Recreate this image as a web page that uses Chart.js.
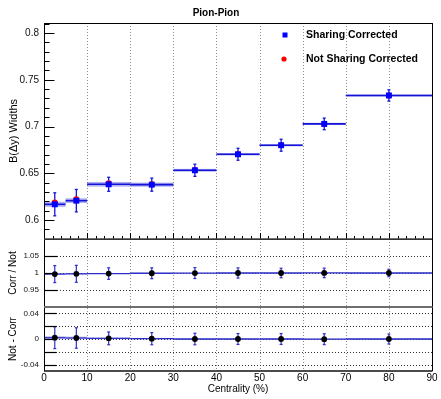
<!DOCTYPE html>
<html><head><meta charset="utf-8">
<script src="https://cdn.jsdelivr.net/npm/chart.js@4/dist/chart.umd.min.js"></script>
<style>html,body{margin:0;padding:0;background:#fff}canvas{display:block}</style>
</head><body>
<canvas id="c" width="441" height="399"></canvas>
<script>
// ---- data ----
const binLow  = [0, 5, 10, 20, 30, 40, 50, 60, 70];
const binHigh = [5, 10, 20, 30, 40, 50, 60, 70, 90];
const centrality = [2.5, 7.5, 15, 25, 35, 45, 55, 65, 80];
const sharingCorrected    = [0.6168, 0.6207, 0.6382, 0.6378, 0.6532, 0.6703, 0.6800, 0.7028, 0.7332];
const sharingCorrectedErr = [0.0123, 0.0120, 0.0075, 0.0070, 0.0065, 0.0064, 0.0064, 0.0062, 0.0060];
const sharingCorrectedSys = [0.0027, 0.0025, 0.0025, 0.0022, 0.0015, 0.0013, 0.0012, 0.0012, 0.0012];
const notSharingCorrected = [0.6188, 0.6222, 0.6392, 0.6383, 0.6534, 0.6703, 0.6800, 0.7026, 0.7332];
const ratioCorrNot    = [0.9968, 0.9976, 0.9984, 0.9992, 0.9997, 1.0000, 1.0000, 1.0003, 1.0000];
const ratioCorrNotErr = [0.025, 0.025, 0.017, 0.016, 0.016, 0.015, 0.014, 0.014, 0.011];
const ratioSys        = [0.002, 0.002, 0.0015, 0.0015, 0.001, 0.001, 0.001, 0.001, 0.001];
const diffNotCorr     = [0.0020, 0.0016, 0.0010, 0.0005, 0.0000, 0.0000, 0.0000, -0.0003, 0.0000];
const diffNotCorrErr  = [0.017, 0.016, 0.0100, 0.0095, 0.0090, 0.0085, 0.0085, 0.0085, 0.0078];
const diffSys         = [0.0025, 0.0022, 0.0015, 0.0012, 0.001, 0.001, 0.001, 0.001, 0.001];
const xGridLines = [10, 20, 30, 40, 50, 60, 70, 80];
const topTicks   = [0.6, 0.65, 0.7, 0.75, 0.8];
const ratioTicks = [0.95, 1, 1.05];
const diffTicks  = [-0.04, -0.02, 0, 0.02, 0.04];

const FONT = "'Liberation Sans', Arial, Helvetica, sans-serif";
const pts = (xs, ys) => xs.map((x, i) => ({x: x, y: ys[i]}));
const fmt = v => String(Math.round(v * 1000) / 1000);
const setTicks = arr => (s => { s.ticks = arr.map(v => ({value: v})); });

function seg(ctx, x1, y1, x2, y2) { ctx.beginPath(); ctx.moveTo(x1, y1); ctx.lineTo(x2, y2); ctx.stroke(); }

const panelPlugin = {
  id: 'panels',
  beforeDatasetsDraw(chart) {
    const {ctx, chartArea: a, scales} = chart;
    const X = scales.x, Y = scales.y, R = scales.yr, D = scales.yd;
    ctx.save();
    // vertical dotted grid
    ctx.lineWidth = 1; ctx.strokeStyle = '#8c8c8c'; ctx.setLineDash([1, 2]);
    xGridLines.forEach(v => { const px = Math.round(X.getPixelForValue(v)) + 0.5; seg(ctx, px, a.top, px, a.bottom); });
    // horizontal dotted grid in lower panels
    ctx.strokeStyle = '#333';
    ratioTicks.forEach(v => { const py = Math.round(R.getPixelForValue(v)) + 0.5; seg(ctx, a.left + 13, py, a.right, py); });
    diffTicks.forEach(v => { const py = Math.round(D.getPixelForValue(v)) + 0.5; seg(ctx, a.left + 12, py, a.right, py); });
    ctx.setLineDash([]);

    // bands
    const band = (S, vals, sys, col) => {
      ctx.fillStyle = col;
      vals.forEach((v, i) => {
        const x1 = X.getPixelForValue(binLow[i]), x2 = X.getPixelForValue(binHigh[i]);
        const y1 = S.getPixelForValue(v + sys[i]), y2 = S.getPixelForValue(v - sys[i]);
        ctx.fillRect(x1, y1, x2 - x1, y2 - y1);
      });
    };
    band(Y, sharingCorrected, sharingCorrectedSys, 'rgba(80,80,225,0.45)');
    band(R, ratioCorrNot, ratioSys, 'rgba(90,90,220,0.35)');
    band(D, diffNotCorr, diffSys, 'rgba(90,90,220,0.35)');

    // error bars
    const errs = (S, vals, err, col, lw, xlw) => {
      ctx.strokeStyle = col;
      vals.forEach((v, i) => {
        const px = X.getPixelForValue(centrality[i]);
        const py = S.getPixelForValue(v);
        ctx.lineWidth = xlw;
        seg(ctx, X.getPixelForValue(binLow[i]), py, X.getPixelForValue(binHigh[i]), py);
        ctx.lineWidth = lw;
        const t = S.getPixelForValue(v + err[i]), b = S.getPixelForValue(v - err[i]);
        seg(ctx, px, t, px, b);
        seg(ctx, px - 1.5, t, px + 1.5, t);
        seg(ctx, px - 1.5, b, px + 1.5, b);
      });
    };
    errs(Y, sharingCorrected, sharingCorrectedErr, '#1414d8', 1.3, 1.6);
    errs(R, ratioCorrNot, ratioCorrNotErr, '#3030c8', 1.2, 1.3);
    errs(D, diffNotCorr, diffNotCorrErr, '#3030c8', 1.2, 1.3);
    ctx.restore();
  },
  afterDatasetsDraw(chart) {
    const {ctx, chartArea: a, scales} = chart;
    const X = scales.x, Y = scales.y, R = scales.yr, D = scales.yd;
    ctx.save();
    const L = a.left + 0.5, Rt = Math.round(a.right) + 0.5;
    // top panel frame
    ctx.strokeStyle = '#000'; ctx.lineWidth = 1;
    ctx.strokeRect(L, Math.round(Y.top) + 0.5, Rt - L, Math.round(Y.bottom) - Math.round(Y.top));
    // y ticks top panel
    for (let k = 58; k <= 81; k++) {
      const v = k / 100; if (v < Y.min || v > Y.max) continue;
      const py = Math.round(Y.getPixelForValue(v)) + 0.5;
      const major = topTicks.some(t => Math.abs(t - v) < 1e-6);
      seg(ctx, L, py, L + (major ? 10 : 5), py);
    }
    // x ticks along bottom of top panel
    for (let v = 2; v < 90; v += 2) {
      const px = Math.round(X.getPixelForValue(v)) + 0.5;
      const yb = Math.round(Y.bottom);
      seg(ctx, px, yb, px, yb - (v % 10 === 0 ? 6 : 3));
    }
    // lower panels sides
    seg(ctx, L, Y.bottom, L, a.bottom);
    seg(ctx, Rt, Y.bottom, Rt, a.bottom);
    ctx.lineWidth = 1.2;
    ratioTicks.forEach(v => { const py = Math.round(R.getPixelForValue(v)) + 0.5; seg(ctx, L, py, L + 13, py); });
    diffTicks.forEach(v => { const py = Math.round(D.getPixelForValue(v)) + 0.5; seg(ctx, L, py, L + 12, py); });
    // separators
    ctx.strokeStyle = '#444'; ctx.lineWidth = 1.6;
    seg(ctx, a.left, Y.bottom, a.right, Y.bottom);
    ctx.strokeStyle = '#6e6e6e'; ctx.lineWidth = 2.2;
    seg(ctx, a.left, R.bottom, a.right + 0.5, R.bottom);
    ctx.strokeStyle = '#111'; ctx.lineWidth = 1.6;
    seg(ctx, a.left, a.bottom, a.right + 0.5, a.bottom);

    // legend
    const ds = chart.data.datasets;
    const lx = a.left + 241, ly1 = a.top + 12, ly2 = a.top + 36;
    ctx.fillStyle = ds[0].backgroundColor;
    ctx.fillRect(lx - 2.5, ly1 - 2.5, 5, 5);
    ctx.fillStyle = ds[1].backgroundColor;
    ctx.beginPath(); ctx.arc(lx - 1, ly2, 2.6, 0, Math.PI * 2); ctx.fill();
    ctx.fillStyle = '#000';
    ctx.font = 'bold 10.5px ' + FONT;
    ctx.textBaseline = 'middle'; ctx.textAlign = 'left';
    ctx.fillText(ds[0].label, lx + 21, ly1);
    ctx.fillText(ds[1].label, lx + 21, ly2);
    ctx.restore();
  }
};

new Chart(document.getElementById('c'), {
  type: 'scatter',
  data: {
    datasets: [
      {label: 'Sharing Corrected', data: pts(centrality, sharingCorrected), yAxisID: 'y',
       pointStyle: 'rect', pointRadius: 4.2, backgroundColor: '#0000ff', borderColor: '#0000ff', borderWidth: 0, order: 0},
      {label: 'Not Sharing Corrected', data: pts(centrality, notSharingCorrected), yAxisID: 'y',
       pointStyle: 'circle', pointRadius: 3, backgroundColor: '#ff0000', borderColor: '#ff0000', borderWidth: 0, order: 1},
      {label: 'Corr / Not', data: pts(centrality, ratioCorrNot), yAxisID: 'yr',
       pointStyle: 'circle', pointRadius: 2.9, backgroundColor: '#000', borderColor: '#000', borderWidth: 0, order: 2},
      {label: 'Not - Corr', data: pts(centrality, diffNotCorr), yAxisID: 'yd',
       pointStyle: 'circle', pointRadius: 2.9, backgroundColor: '#000', borderColor: '#000', borderWidth: 0, order: 3}
    ]
  },
  options: {
    responsive: false, animation: false, devicePixelRatio: 1,
    layout: {padding: {top: 0, right: 9, left: 0, bottom: 0}},
    plugins: {
      legend: {display: false}, tooltip: {enabled: false},
      title: {display: true, text: 'Pion-Pion', color: '#000', font: {family: FONT, size: 10, weight: 'bold'}, padding: {top: 7, bottom: 4}}
    },
    scales: {
      x: {type: 'linear', position: 'bottom', min: 0, max: 90,
          grid: {display: false, drawTicks: false}, border: {display: false},
          ticks: {stepSize: 10, maxRotation: 0, autoSkip: false, padding: 1, color: '#000', font: {family: FONT, size: 10}},
          title: {display: true, text: 'Centrality (%)', color: '#000', font: {family: FONT, size: 10}, padding: {top: 0, bottom: 4}},
          afterFit: s => { s.height = 28; }},
      yd: {type: 'linear', position: 'left', stack: 'panels', stackWeight: 64, min: -0.05, max: 0.05, bounds: 'data',
           afterBuildTicks: setTicks(diffTicks),
           grid: {display: false, drawTicks: false}, border: {display: false},
           ticks: {padding: 5, color: '#111', font: {family: FONT, size: 8}, callback: fmt},
           title: {display: true, text: 'Not - Corr', color: '#000', font: {family: FONT, size: 10}, padding: {top: 7, bottom: 0}},
           afterFit: s => { s.width = 44; }},
      yr: {type: 'linear', position: 'left', stack: 'panels', stackWeight: 68, min: 0.9, max: 1.1, bounds: 'data',
           afterBuildTicks: setTicks(ratioTicks),
           grid: {display: false, drawTicks: false}, border: {display: false},
           ticks: {padding: 5, color: '#111', font: {family: FONT, size: 8}, callback: fmt},
           title: {display: true, text: 'Corr / Not', color: '#000', font: {family: FONT, size: 10}, padding: {top: 7, bottom: 0}},
           afterFit: s => { s.width = 44; }},
      y: {type: 'linear', position: 'left', stack: 'panels', stackWeight: 216, min: 0.5797, max: 0.8107, bounds: 'data',
          afterBuildTicks: setTicks(topTicks),
          grid: {display: false, drawTicks: false}, border: {display: false},
          ticks: {padding: 5, color: '#111', font: {family: FONT, size: 10}, callback: fmt},
          title: {display: true, text: 'B(\u0394y) Widths', color: '#000', font: {family: FONT, size: 11}, padding: {top: 7, bottom: 0}},
          afterFit: s => { s.width = 44; }}
    }
  },
  plugins: [panelPlugin]
});
</script>
</body></html>
